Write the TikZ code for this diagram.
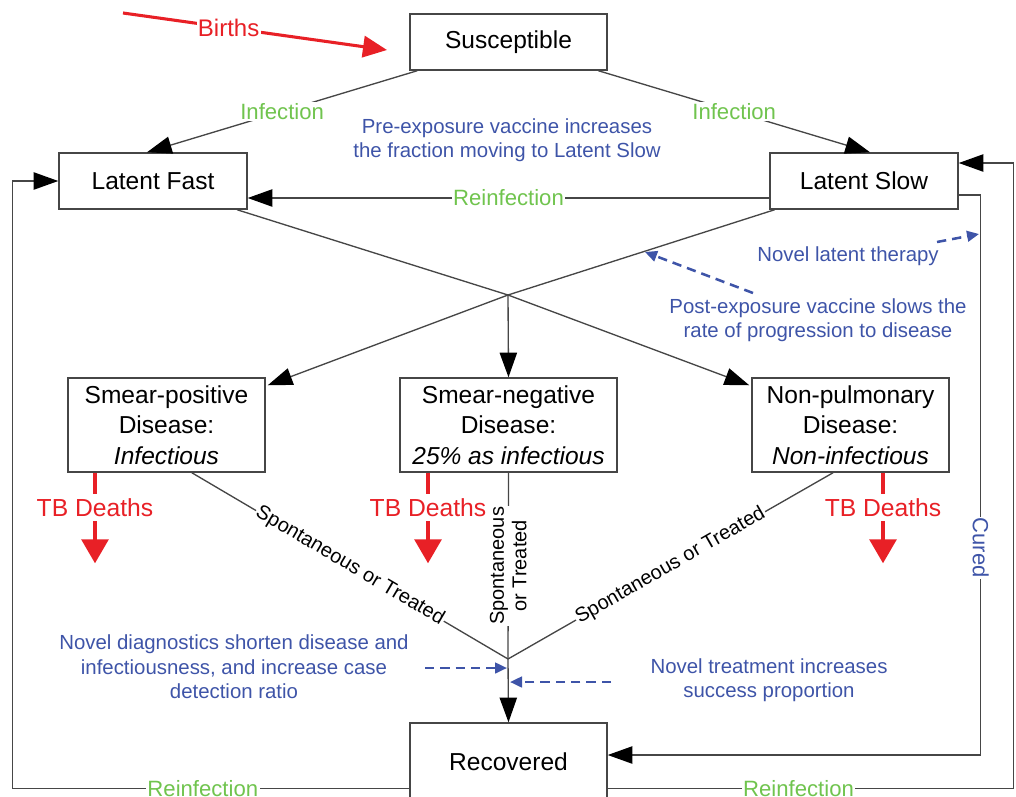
\documentclass[tikz,border=0pt]{standalone}
\usepackage{fontspec}
\setmainfont{Liberation Sans}
\usetikzlibrary{arrows.meta}
\definecolor{tbred}{RGB}{232,32,38}
\definecolor{tbgreen}{RGB}{112,196,78}
\definecolor{tbblue}{RGB}{62,84,168}
\definecolor{lineg}{RGB}{70,70,70}
\begin{document}
\begin{tikzpicture}[x=0.75pt,y=-0.75pt,
  box/.style={draw=lineg, line width=1.1pt, inner sep=0pt, align=center, font=\fontsize{18.4}{23}\selectfont},
  conn/.style={draw=lineg, line width=1pt},
  arr/.style={conn, -{Triangle[length=18.5pt,width=13pt,color=black]}},
  grn/.style={text=tbgreen, fill=white, inner sep=1pt, font=\fontsize{16.6}{20}\selectfont},
  blk/.style={fill=white, inner sep=1pt, font=\fontsize{15}{17}\selectfont},
  blu/.style={text=tbblue, align=center, inner sep=0pt, font=\fontsize{15.3}{18.4}\selectfont},
  death/.style={text=tbred, inner sep=1pt, font=\fontsize{18.5}{22}\selectfont},
  redstub/.style={draw=tbred, line width=3pt},
  redarr/.style={draw=tbred, line width=3pt, -{Triangle[length=18pt,width=20pt]}},
  birthsarr/.style={draw=tbred, line width=2.3pt, -{Triangle[length=18pt,width=16pt]}},
  bluarr/.style={draw=tbblue, line width=1.9pt, dash pattern=on 7pt off 4.5pt, -{Triangle[length=9pt,width=8pt]}}
]
\useasboundingbox (0,0) rectangle (1016,796);
\clip (0,0) rectangle (1016,796);

% boxes
\node[box, minimum width=147.75pt, minimum height=42pt] (sus) at (508.5,42) {Susceptible};
\node[box, minimum width=141pt, minimum height=42pt] (lf) at (153,181) {Latent Fast};
\node[box, minimum width=141pt, minimum height=42pt] (ls) at (864,181) {Latent Slow};
\node[box, minimum width=147.75pt, minimum height=70.5pt] (sp) at (166.5,425) {Smear-positive\\Disease:\\\textit{Infectious}};
\node[box, minimum width=162.75pt, minimum height=70.5pt] (sn) at (508.5,425) {Smear-negative\\Disease:\\\textit{25\% as infectious}};
\node[box, minimum width=147.75pt, minimum height=70.5pt] (np) at (850.5,425) {Non-pulmonary\\Disease:\\\textit{Non-infectious}};
\node[box, minimum width=147.75pt, minimum height=58.5pt] (rec) at (508.5,762) {Recovered};

% births
\coordinate (bs) at (123,13);
\coordinate (be) at (387,50);
\draw[birthsarr] (bs) -- node[pos=0.4, text=tbred, fill=white, inner sep=1pt, font=\fontsize{18}{22}\selectfont] {Births} (be);

% infection
\draw[arr] ([xshift=6pt]sus.south west) -- node[grn] {Infection} ([xshift=-4.5pt]lf.north);
\draw[arr] ([xshift=-7pt]sus.south east) -- node[grn] {Infection} ([xshift=4.5pt]ls.north);
\draw[arr] ([yshift=-12.75pt]ls.west) -- node[grn] {Reinfection} ([yshift=-12.75pt]lf.east);

% loops
\draw[arr] ([yshift=-20pt]rec.west) -| node[grn, pos=0.26] {Reinfection} ([xshift=-34.5pt]lf.west) -- (lf.west);
\draw[arr] ([yshift=-20pt]rec.east) -| node[grn, pos=0.235] {Reinfection} ([xshift=41.25pt,yshift=13.5pt]ls.east) -- ([yshift=13.5pt]ls.east);
\draw[arr] ([yshift=-10.5pt]ls.east) -- ++(22,0) |- node[pos=0.315, rotate=-90, text=tbblue, fill=white, inner sep=1pt, font=\fontsize{16.5}{20}\selectfont] {Cured} ([yshift=5.25pt]rec.east);

% progression
\coordinate (J) at (508,295);
\draw[arr] ([xshift=-8pt]lf.south east) -- (J) -- ([xshift=-1.5pt,yshift=-6pt]np.north west);
\draw[arr] ([xshift=4pt]ls.south west) -- (J) -- ([xshift=1.5pt,yshift=-6pt]sp.north east);
\draw[arr] (J) -- (sn.north);

% recovery
\coordinate (K) at (508,659);
\draw[conn] ([xshift=19pt]sp.south) -- node[blk, sloped] {Spontaneous or Treated} (K);
\draw[conn] (sn.south) -- node[blk, rotate=90, align=center] {Spontaneous\\or Treated} (K);
\draw[conn] ([xshift=-13.1pt]np.south) -- node[blk, sloped] {Spontaneous or Treated} (K);
\draw[arr] (K) -- (rec.north);

% deaths
\node[death] (d1) at (95,508) {TB Deaths};
\node[death] (d2) at (428,508) {TB Deaths};
\node[death] (d3) at (883,508) {TB Deaths};
\draw[redstub] (d1.north |- sp.south) -- ++(0,21);
\draw[redstub] (d2.north |- sn.south) -- ++(0,21);
\draw[redstub] (d3.north |- np.south) -- ++(0,21);
\draw[redarr] ([yshift=-2pt]d1.south) -- ++(0,42);
\draw[redarr] ([yshift=-2pt]d2.south) -- ++(0,42);
\draw[redarr] ([yshift=-2pt]d3.south) -- ++(0,42);

% interventions
\node[blu] (pre) at (507,140) {Pre-exposure vaccine increases\\the fraction moving to Latent Slow};
\node[blu] (nlt) at (848,256) {Novel latent therapy};
\node[blu] (post) at (818,320) {Post-exposure vaccine slows the\\rate of progression to disease};
\node[blu] (diag) at (234,667) {Novel diagnostics shorten disease and\\infectiousness, and increase case\\detection ratio};
\node[blu] (treat) at (769,680) {Novel treatment increases\\success proportion};

\coordinate (nlta) at (937,242);
\coordinate (nltb) at (979,234);
\draw[bluarr] (nlta) -- (nltb);
\coordinate (posta) at (753,293);
\coordinate (postb) at (645,252);
\draw[bluarr] (posta) -- (postb);
\coordinate (diaga) at (425,668);
\coordinate (diagb) at (507,668);
\draw[bluarr] (diaga) -- (diagb);
\coordinate (treata) at (611,682);
\coordinate (treatb) at (510,682);
\draw[bluarr] (treata) -- (treatb);
\end{tikzpicture}
\end{document}
